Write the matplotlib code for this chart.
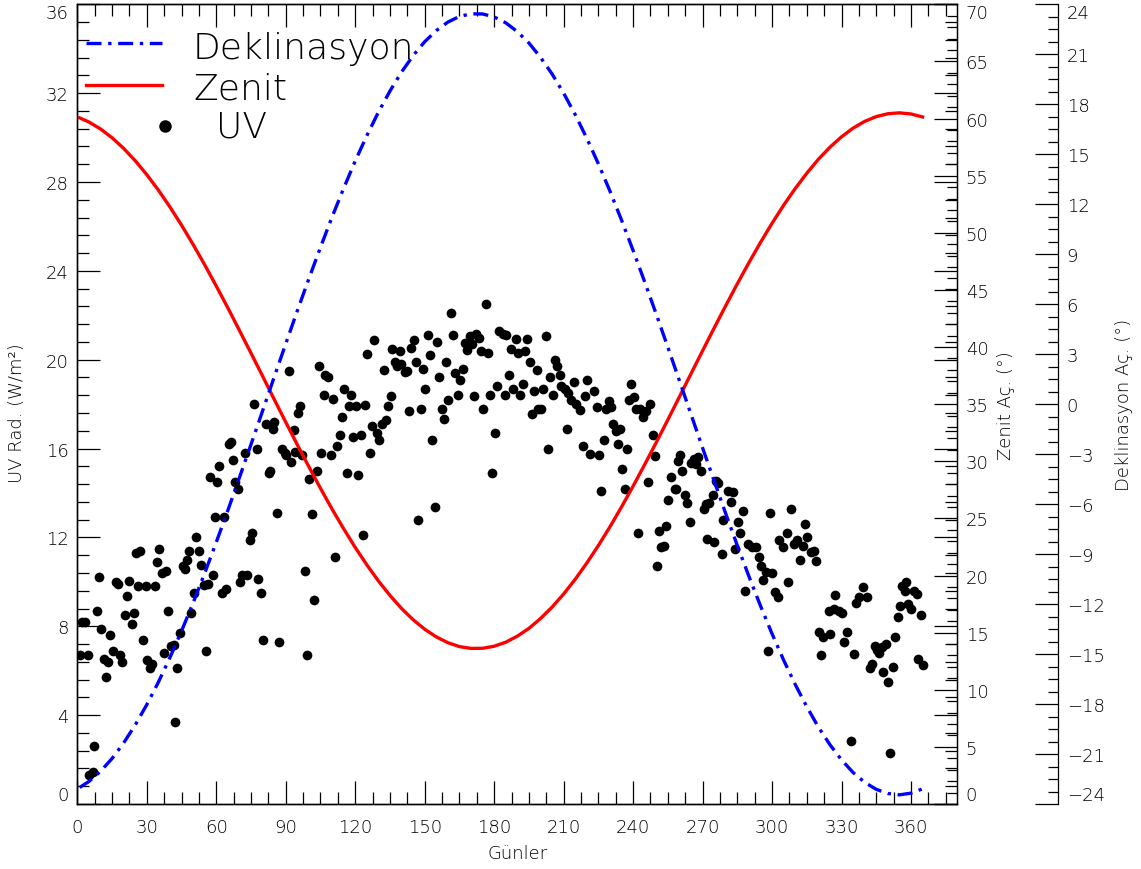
import matplotlib
matplotlib.use("Agg")
import matplotlib.pyplot as plt
from matplotlib.ticker import MultipleLocator
from matplotlib.lines import Line2D

# gunluk UV olcumleri
uv_gun = [1.3, 2.0, 3.5, 4.5, 5.2, 6.6, 7.4, 8.4, 9.4, 10.4, 11.4, 12.2, 13.2, 14.3, 15.3, 16.5, 17.4, 18.3,
          19.4, 20.4, 21.4, 22.3, 23.5, 24.3, 25.5, 26.0, 27.2, 28.3, 29.5, 30.2, 31.2, 32.4, 33.4, 34.2,
          35.2, 36.4, 37.3, 38.4, 39.3, 40.6, 41.9, 42.0, 43.2, 44.3, 45.6, 46.5, 47.3, 48.3, 49.3, 50.2,
          51.4, 52.5, 53.4, 54.5, 55.4, 56.5, 57.3, 58.4, 59.3, 60.4, 61.3, 62.4, 63.3, 64.3, 65.3, 66.2,
          67.3, 68.2, 69.2, 70.3, 71.3, 72.3, 73.4, 74.4, 75.4, 76.4, 77.5, 78.2, 79.2, 80.4, 81.3, 82.6,
          83.3, 84.4, 85.1, 86.2, 87.2, 88.3,
          89.6, 90.3, 91.3, 92.2, 93.5, 94.2, 95.4, 96.2, 97.2, 98.4, 99.2, 100.2, 101.4, 102.3, 103.3,
          104.3, 105.4, 106.4, 107.1, 108.3, 109.4, 110.5, 111.2, 112.3, 113.3, 114.3, 115.3, 116.3,
          117.2, 118.4, 119.2, 120.2, 121.4, 122.4, 123.3, 124.3, 125.3, 126.4, 127.3, 128.1, 129.3,
          130.4, 131.4, 132.3, 133.5, 134.3, 135.3, 136.0, 137.1, 138.2, 139.5, 139.9, 141.7, 142.5,
          143.2, 144.2, 145.3, 146.4, 147.3, 148.3, 149.3, 150.3, 151.3, 152.3, 153.3, 154.3, 155.3,
          156.2, 157.3, 158.3, 159.2, 160.2, 161.2, 162.4, 163.2, 164.4, 165.4, 166.4, 167.3, 168.4,
          169.4, 170.4, 171.1, 172.1, 173.3, 174.3, 175.2, 176.3, 177.5, 178.3, 179.2, 180.2, 181.1, 181.9,
          183.8, 185.2, 184.5, 186.2, 187.1, 188.3, 189.3, 190.3, 191.3, 192.4, 193.3, 194.3, 195.3,
          196.3, 197.2, 198.3, 198.9, 200.3, 201.3, 202.2, 203.2, 204.2, 205.4, 206.4, 207.2, 208.4,
          209.0, 210.4, 211.3, 212.1, 213.3, 214.3, 215.4, 217.0, 218.3, 219.3, 220.3, 221.5, 223.3,
          224.3, 225.2, 226.2, 227.4, 228.4, 229.4, 230.5, 231.3, 232.7, 233.4, 234.4, 235.3, 236.3,
          237.3, 238.4, 239.2, 240.3, 241.3, 242.3, 243.0, 244.2, 245.6, 246.3, 247.2, 248.4, 249.5,
          250.2, 251.1, 252.1, 253.5, 254.3, 255.0, 256.4, 258.0, 258.6, 259.3, 260.3, 261.3, 262.2,
          263.3, 264.5, 265.0, 266.5, 267.2, 268.2, 269.4, 270.5, 271.5, 272.0,
          272.9, 274.4, 275.1, 275.8, 276.5, 278.2, 279.0, 280.8, 282.3, 283.0, 284.1, 285.1, 286.1,
          287.3, 288.3, 289.5, 291.2, 293.0, 294.2, 295.2, 296.2, 297.4, 298.2, 299.2, 300.2, 301.2,
          302.4, 303.1, 304.6, 306.3, 307.1, 308.3, 309.6, 310.7, 312.2, 313.3, 314.3, 315.3, 316.8,
          318.2, 319.2, 320.1, 321.2, 322.1, 324.4, 325.1, 326.6, 327.3, 329.0, 330.4, 331.2, 332.4,
          334.2, 335.2, 336.2, 337.6, 339.1, 341.2, 342.2, 343.1, 344.4, 345.5, 346.3, 347.4, 348.1,
          349.1, 350.1, 351.1, 352.3, 353.3, 354.2, 355.2, 356.3, 357.3, 358.0, 358.9, 360.2, 361.4,
          362.4, 363.2, 364.2, 365.2]
uv_rad = [6.7, 8.2, 8.2, 6.7, 1.3, 1.45, 2.6, 8.7, 10.2, 7.9, 6.55, 5.7, 6.4, 7.6, 6.9, 10.0, 9.9, 6.7,
          6.4, 8.5, 9.35, 10.05, 8.1, 8.6, 11.3, 9.8, 11.4, 7.4, 9.8, 6.5, 6.1, 6.3, 9.8, 10.9,
          11.5, 10.4, 6.8, 10.5, 8.7, 7.1, 7.15, 3.67, 6.1, 7.7, 10.7, 10.6, 11.0, 11.4, 8.6, 9.5,
          12.0, 11.4, 10.75, 9.85, 6.9, 9.9, 14.7, 10.3, 12.9, 14.5, 15.2, 9.5, 12.9, 9.7, 16.2, 16.3,
          15.5, 14.5, 14.2, 10.0, 10.3, 15.8, 10.3, 11.9, 12.2, 18.0, 16.0, 10.15, 9.5, 7.4, 17.1, 14.9,
          15.0, 16.9, 17.2, 13.1, 7.3, 16.0,
          15.8, 15.7, 19.5, 15.4, 16.85, 15.85, 17.6, 17.9, 15.7, 10.5, 6.7, 14.65, 13.05, 9.2, 15.0,
          19.7, 15.8, 18.4, 19.3, 19.2, 15.7, 18.25, 11.1, 16.1, 16.6, 17.4, 18.7, 14.9,
          17.9, 18.4, 16.5, 17.9, 14.8, 16.6, 12.1, 17.95, 20.25, 15.8, 17.0, 20.9, 16.7,
          16.4, 17.1, 19.55, 17.3, 17.9, 18.35, 20.5, 19.9, 19.7, 20.4, 19.8, 19.45, 19.5,
          17.7, 20.55, 20.9, 19.9, 12.8, 17.8, 19.6, 18.7, 21.1, 20.2, 16.4, 13.35, 20.8,
          19.2, 17.8, 17.35, 19.9, 18.2, 22.1, 21.1, 19.4, 18.4, 19.1, 19.6, 20.75, 20.45,
          21.05, 20.7, 18.35, 21.15, 21.0, 20.4, 17.8, 22.5, 20.3, 18.4, 14.9, 16.7, 18.8, 21.3,
          21.15, 21.1, 18.4, 19.3, 20.5, 18.7, 20.95, 20.3, 18.4, 18.9, 20.4, 20.95, 19.9,
          17.55, 18.6, 19.55, 17.8, 17.8, 18.7, 21.05, 16.0, 19.2, 18.4, 20.0, 19.7, 19.3,
          18.8, 18.7, 16.9, 18.5, 18.2, 19.0, 18.0, 17.75, 16.1, 18.35, 19.1, 15.75, 18.6,
          17.85, 15.7, 14.1, 16.4, 17.8, 18.15, 17.85, 17.1, 16.8, 16.2, 16.9, 15.1, 14.2,
          16.0, 18.2, 18.9, 18.3, 17.8, 12.2, 17.8, 17.4, 17.7, 14.5, 18.0, 16.6, 15.65,
          10.7, 12.3, 11.55, 11.6, 12.5, 13.7, 14.7, 14.2, 14.2, 15.45, 15.7, 15.0, 13.9,
          13.55, 12.7, 15.35, 15.55, 15.3, 15.6, 15.0, 13.3, 13.5, 11.95,
          13.55, 13.9, 11.8, 14.55, 14.45, 11.25, 12.8, 14.1, 13.6, 14.05, 11.5, 12.7, 12.2,
          13.2, 9.6, 11.7, 11.55, 11.55, 11.1, 10.7, 10.1, 10.45, 6.9, 13.1, 10.4, 9.55,
          9.3, 11.9, 11.55, 12.2, 10.0, 13.3, 11.7, 11.9, 11.0, 11.6, 12.6, 12.0, 11.35,
          11.4, 10.95, 7.75, 6.7, 7.5, 8.7, 7.65, 8.8, 9.4, 8.7, 8.6, 7.3, 7.75,
          2.85, 6.75, 9.05, 9.3, 9.75, 9.3, 6.1, 6.3, 7.1, 6.95, 6.8, 7.05, 5.95,
          7.2, 5.5, 2.3, 6.15, 7.5, 8.4, 8.9, 9.8, 9.6, 10.0, 9.0, 8.8, 9.6,
          9.45, 6.55, 8.5, 6.25]

# deklinasyon ve zenit egrileri (5 gunde bir okundu)
egri_gun = [1, 5, 10, 15, 20, 25, 30, 35, 40, 45, 50, 55, 60, 65, 70, 75, 80, 85, 90, 95, 100,
            105, 110, 115, 120, 125, 130, 135, 140, 145, 150, 155, 160, 165, 170, 175, 180, 185,
            190, 195, 200, 205, 210, 215, 220, 225, 230, 235, 240, 245, 250, 255, 260, 265, 270,
            275, 280, 285, 290, 295, 300, 305, 310, 315, 320, 325, 330, 335, 340, 345, 350, 355,
            360, 365]
deklinasyon = [-23.01, -22.65, -22.04, -21.27, -20.34, -19.26, -18.04, -16.69, -15.21, -13.62,
               -11.93, -10.15, -8.29, -6.38, -4.41, -2.42, -0.41, 1.62, 3.62, 5.60, 7.53, 9.41,
               11.23, 12.95, 14.59, 16.11, 17.52, 18.79, 19.93, 20.92, 21.75, 22.42, 22.93, 23.27,
               23.43, 23.42, 23.24, 22.89, 22.36, 21.68, 20.82, 19.82, 18.67, 17.38, 15.96, 14.43,
               12.79, 11.05, 9.23, 7.34, 5.40, 3.42, 1.41, -0.61, -2.62, -4.61, -6.57, -8.48,
               -10.33, -12.10, -13.78, -15.36, -16.82, -18.16, -19.38, -20.44, -21.35, -22.11,
               -22.70, -23.12, -23.37, -23.45, -23.35, -23.09]
zenit = [60.06, 59.70, 59.09, 58.32, 57.39, 56.31, 55.09, 53.74, 52.26, 50.67, 48.98, 47.20,
         45.34, 43.43, 41.46, 39.47, 37.46, 35.43, 33.43, 31.45, 29.52, 27.64, 25.82, 24.10,
         22.46, 20.94, 19.53, 18.26, 17.12, 16.13, 15.30, 14.63, 14.12, 13.78, 13.62, 13.63,
         13.81, 14.16, 14.69, 15.37, 16.23, 17.23, 18.38, 19.67, 21.09, 22.62, 24.26, 26.00,
         27.82, 29.71, 31.65, 33.63, 35.64, 37.66, 39.67, 41.66, 43.62, 45.53, 47.38, 49.15,
         50.83, 52.41, 53.87, 55.21, 56.43, 57.49, 58.40, 59.16, 59.75, 60.17, 60.42, 60.50,
         60.40, 60.14]

xticks = list(range(0, 361, 30))
uv_ticks = list(range(0, 37, 4))
zenit_ticks = list(range(0, 71, 5))
dek_ticks = list(range(-24, 25, 3))

plt.rcParams['font.family'] = ['DejaVu Sans']
plt.rcParams['font.weight'] = 'light'
plt.rcParams['axes.labelweight'] = 'light'
FS = 13
DASH = (0, (4.5, 2, 1, 2))

fig = plt.figure(figsize=(11.41, 8.70), dpi=100)
ax = fig.add_axes([0.06775, 0.07471, 0.77125, 0.91920])
ax2 = ax.twinx()
ax3 = ax.twinx()
ax3.spines['right'].set_position(('axes', 1.1148))

ax.plot(uv_gun, uv_rad, 'o', color='black', markersize=7, markeredgewidth=0)
ax2.plot(egri_gun, zenit, '-', color='red', lw=2.4, solid_joinstyle='round')
ax3.plot(egri_gun, deklinasyon, color='blue', lw=2.4, linestyle=DASH, dash_joinstyle='round')

ax.set_xlim(0, 380)
ax.set_ylim(0, 36)
ax2.set_ylim(0, 70)
ax3.set_ylim(-24, 24)

ax.set_xticks(xticks, [str(t) for t in xticks])
ax.xaxis.set_minor_locator(MultipleLocator(7.5))
ax.set_yticks(uv_ticks, [str(t) for t in uv_ticks])
ax.yaxis.set_minor_locator(MultipleLocator(0.8))
ax2.set_yticks(zenit_ticks, [str(t) for t in zenit_ticks])
ax2.yaxis.set_minor_locator(MultipleLocator(1))
ax3.set_yticks(dek_ticks, [str(t).replace('-', '\u2212') for t in dek_ticks])
ax3.yaxis.set_minor_locator(MultipleLocator(0.75))

ax.tick_params(axis='x', which='both', direction='in', top=True, bottom=True, labelsize=FS, pad=10)
ax.tick_params(axis='y', which='both', direction='in', left=True, right=True, labelright=False,
               labelsize=FS, pad=6)
ax.tick_params(which='major', length=16.5, width=0.9)
ax.tick_params(which='minor', length=8.5, width=0.9)
for a in (ax2, ax3):
    a.tick_params(axis='y', which='both', direction='in', left=False, right=True,
                  labelleft=False, labelright=True, labelsize=FS, pad=6)
    a.tick_params(which='major', length=16.5, width=0.9)
    a.tick_params(which='minor', length=7, width=0.9)
for a in (ax, ax2, ax3):
    for s in a.spines.values():
        s.set_linewidth(0.9)

# uc etiketler eksenin icine kaysin
for a in (ax, ax2, ax3):
    lbls = a.get_yticklabels()
    lbls[0].set_va('bottom')
    lbls[-1].set_va('top')

ax.set_xlabel('Günler', fontsize=FS)
ax.xaxis.set_label_coords(0.5, -0.050)
ax.set_ylabel('UV Rad. (W/m²)', fontsize=FS)
ax.yaxis.set_label_coords(-0.0583, 0.49)
ax2.set_ylabel('Zenit Aç. (°)', fontsize=FS)
ax2.yaxis.set_label_coords(1.0455, 0.5)
ax3.set_ylabel('Deklinasyon Aç. (°)', fontsize=FS)
ax3.yaxis.set_label_coords(1.1795, 0.5)

# lejant
tr = ax3.transAxes
ax3.add_line(Line2D([0.0099, 0.0959], [0.9512, 0.9512], transform=tr, color='blue', lw=2.4,
                    linestyle=DASH))
ax3.add_line(Line2D([0.0099, 0.0959], [0.8991, 0.8991], transform=tr, color='red', lw=2.4))
ax3.add_line(Line2D([0.0998], [0.8482], transform=tr, marker='o', color='black', markersize=9,
                    markeredgewidth=0, linestyle='none'))
ax3.text(0.1315, 0.9325, 'Deklinasyon', transform=tr, fontsize=26, va='baseline')
ax3.text(0.1315, 0.8828, 'Zenit', transform=tr, fontsize=26, va='baseline')
ax3.text(0.158, 0.8341, 'UV', transform=tr, fontsize=26, va='baseline')

fig.savefig('out.png', dpi=100)
